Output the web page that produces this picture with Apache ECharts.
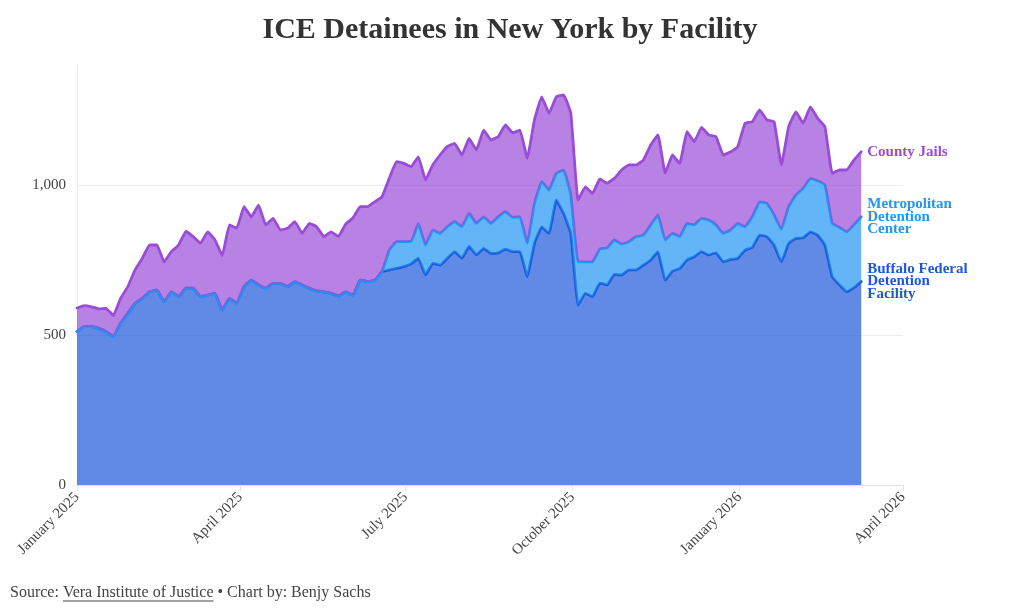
<!DOCTYPE html>
<html>
<head>
<meta charset="utf-8">
<script src="https://cdn.jsdelivr.net/npm/echarts@6/dist/echarts.min.js"></script>
<style>
html,body{margin:0;padding:0;background:#fff;}
#chart{width:1020px;height:612px;}
</style>
</head>
<body>
<div id="chart"></div>
<script>
// ---- data ----
const dates = [
'2025-01-01','2025-01-05','2025-01-09','2025-01-13','2025-01-17','2025-01-21','2025-01-25','2025-01-29','2025-02-02','2025-02-06',
'2025-02-10','2025-02-14','2025-02-18','2025-02-22','2025-02-26','2025-03-02','2025-03-06','2025-03-10','2025-03-14','2025-03-18',
'2025-03-22','2025-03-26','2025-03-30','2025-04-03','2025-04-07','2025-04-11','2025-04-15','2025-04-19','2025-04-23','2025-04-27',
'2025-05-01','2025-05-05','2025-05-09','2025-05-13','2025-05-17','2025-05-21','2025-05-25','2025-05-29','2025-06-02','2025-06-06',
'2025-06-10','2025-06-14','2025-06-18','2025-06-22','2025-06-26','2025-06-30','2025-07-04','2025-07-08','2025-07-12','2025-07-16',
'2025-07-20','2025-07-24','2025-07-28','2025-08-01','2025-08-05','2025-08-09','2025-08-13','2025-08-17','2025-08-21','2025-08-25',
'2025-08-29','2025-09-02','2025-09-06','2025-09-10','2025-09-14','2025-09-18','2025-09-22','2025-09-26','2025-09-30','2025-10-04',
'2025-10-08','2025-10-12','2025-10-16','2025-10-20','2025-10-24','2025-10-28','2025-11-01','2025-11-05','2025-11-09','2025-11-13',
'2025-11-17','2025-11-21','2025-11-25','2025-11-29','2025-12-03','2025-12-07','2025-12-11','2025-12-15','2025-12-19','2025-12-23',
'2025-12-27','2025-12-31','2026-01-04','2026-01-08','2026-01-12','2026-01-16','2026-01-20','2026-01-24','2026-01-28','2026-02-01',
'2026-02-05','2026-02-09','2026-02-13','2026-02-17','2026-02-21','2026-02-25','2026-03-01','2026-03-05','2026-03-09'
];

const buffalo = [
511,528,528,522,511,495,539,572,606,622,
644,650,611,644,628,656,656,628,633,639,
583,622,606,661,683,667,656,672,672,661,
678,667,656,647,644,639,630,644,633,683,
678,683,711,717,722,728,737,756,700,739,
733,756,778,756,795,767,789,772,774,786,
778,778,694,806,860,839,950,906,839,600,
639,628,673,667,702,700,717,717,733,750,
778,683,713,722,750,761,778,767,774,744,
752,756,783,792,833,828,800,744,806,822,
824,844,833,800,694,667,644,658,678
];

const metropolitan = [
0,0,0,0,0,0,0,0,0,0,
0,0,0,0,0,0,0,0,0,0,
0,0,0,0,0,0,0,0,0,0,
0,0,0,0,0,0,0,0,0,0,
0,0,0,66,89,83,74,116,100,111,
106,105,100,105,111,105,105,100,120,125,
114,116,112,133,151,144,89,144,128,144,
105,116,114,123,115,103,94,111,100,117,
122,134,126,106,122,106,111,116,93,95,
98,116,78,102,111,111,100,108,122,145,
165,178,181,200,178,192,200,209,216
];

const countyJails = [
79,70,66,65,78,70,83,89,111,134,
156,150,133,134,172,189,172,178,211,178,
182,245,250,267,211,266,211,217,178,195,
200,172,216,214,184,205,198,226,257,245,
250,261,250,239,267,261,250,222,217,217,
261,267,261,239,249,245,289,278,267,289,
282,289,283,278,283,256,255,250,273,206,
250,228,233,216,205,247,256,239,250,266,
267,223,261,244,306,277,303,284,294,261,
260,256,345,317,306,278,311,215,266,277,
217,238,208,194,167,191,206,216,217
];

const seriesNames = ['Buffalo Federal Detention Facility', 'Metropolitan Detention Center', 'County Jails'];
const endLabels = ['Buffalo Federal\nDetention\nFacility', 'Metropolitan\nDetention\nCenter', 'County Jails'];
const xTickDates = ['2025-01-01','2025-04-01','2025-07-01','2025-10-01','2026-01-01','2026-04-01'];
const monthNames = ['January','February','March','April','May','June','July','August','September','October','November','December'];
const yAxisRange = { min: 0, max: 1400, interval: 500 };
const xAxisRange = { min: '2025-01-01', max: '2026-04-01' };
const titleText = 'ICE Detainees in New York by Facility';
const sourceParts = ['Source: ', 'Vera Institute of Justice', ' \u2022 Chart by: Benjy Sachs'];

// ---- styling ----
const FONT = '"Liberation Serif", "DejaVu Serif", serif';
const lineColors = ['#1c58db', '#2196f3', '#9a4cd8'];

function toTime(s) {
  const p = s.split('-').map(Number);
  return new Date(p[0], p[1] - 1, p[2]).getTime();
}

const valueSets = [buffalo, metropolitan, countyJails];
const series = valueSets.map((vals, si) => ({
  type: 'line',
  name: seriesNames[si],
  stack: 'total',
  xAxisIndex: 0,
  data: dates.map((d, i) => [toTime(d), vals[i]]),
  showSymbol: false,
  symbol: 'none',
  smooth: 0.1,
  lineStyle: { width: 2.8, color: lineColors[si], join: 'round', cap: 'round' },
  itemStyle: { color: lineColors[si] },
  areaStyle: { color: lineColors[si], opacity: 0.7 },
  emphasis: { disabled: true },
  endLabel: {
    show: true,
    formatter: endLabels[si],
    color: lineColors[si],
    fontFamily: FONT,
    fontWeight: 'bold',
    fontSize: 15,
    lineHeight: 12.5,
    distance: 6
  },
  z: 2 + si
}));

// measure footer pieces for the underline
const ctx = document.createElement('canvas').getContext('2d');
const footFont = '16px ' + FONT;
ctx.font = footFont;
const w0 = ctx.measureText(sourceParts[0]).width;
const w1 = ctx.measureText(sourceParts[1]).width;
const footX = 10, footY = 593, footColor = '#444';

const xTicks = xTickDates.map(toTime);
const xMin = toTime(xAxisRange.min), xMax = toTime(xAxisRange.max);

const chart = echarts.init(document.getElementById('chart'), null, { renderer: 'canvas' });
chart.setOption({
  animation: false,
  backgroundColor: '#ffffff',
  title: {
    text: titleText,
    left: 'center',
    top: 10,
    textStyle: { fontFamily: FONT, fontWeight: 'bold', fontSize: 30, color: '#333333' }
  },
  grid: { left: 77, right: 117, top: 65, bottom: 127, containLabel: false },
  xAxis: [
    {
      // data axis (time) – carries the series
      type: 'time',
      min: xMin,
      max: xMax,
      position: 'bottom',
      axisLine: { show: false },
      axisTick: { show: false },
      axisLabel: { show: false },
      splitLine: { show: false }
    },
    {
      // display axis: quarterly ticks and labels at the same scale
      type: 'value',
      min: xMin,
      max: xMax,
      position: 'bottom',
      axisLine: { show: true, onZero: false, lineStyle: { color: '#e3e3e3', width: 1 } },
      axisTick: { show: true, length: 6, lineStyle: { color: '#e3e3e3' }, customValues: xTicks },
      splitLine: { show: false },
      axisLabel: {
        customValues: xTicks,
        rotate: 45,
        margin: 10,
        fontFamily: FONT,
        fontSize: 15,
        color: '#444444',
        formatter: function (v) {
          const d = new Date(v);
          return monthNames[d.getMonth()] + ' ' + d.getFullYear();
        }
      }
    }
  ],
  yAxis: {
    type: 'value',
    min: yAxisRange.min,
    max: yAxisRange.max,
    interval: yAxisRange.interval,
    axisLine: { show: true, lineStyle: { color: '#ececec', width: 1 } },
    axisTick: { show: false },
    splitLine: { show: true, showMinLine: false, showMaxLine: false, lineStyle: { color: '#ececec', width: 1 } },
    axisLabel: {
      showMaxLabel: false,
      margin: 11,
      fontFamily: FONT,
      fontSize: 15,
      color: '#444444',
      formatter: function (v) { return v.toLocaleString('en-US'); }
    }
  },
  series: series,
  graphic: [
    { type: 'text', x: footX, y: footY, style: { text: sourceParts[0], font: footFont, fill: footColor, verticalAlign: 'middle' } },
    { type: 'text', x: footX + w0, y: footY, style: { text: sourceParts[1], font: footFont, fill: footColor, verticalAlign: 'middle' } },
    { type: 'line', shape: { x1: footX + w0, y1: footY + 8, x2: footX + w0 + w1, y2: footY + 8 }, style: { stroke: footColor, lineWidth: 1 } },
    { type: 'text', x: footX + w0 + w1, y: footY, style: { text: sourceParts[2], font: footFont, fill: footColor, verticalAlign: 'middle' } }
  ]
});
</script>
</body>
</html>
